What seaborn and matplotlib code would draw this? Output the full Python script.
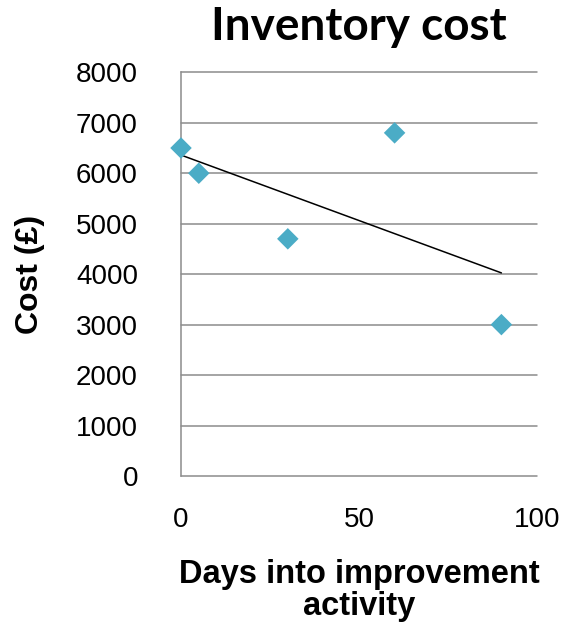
import matplotlib
matplotlib.use("Agg")
import matplotlib.pyplot as plt
import seaborn as sns
import pandas as pd

days = [0, 5, 30, 60, 90]
cost = [6500, 6000, 4700, 6800, 3000]
y_ticks = [0, 1000, 2000, 3000, 4000, 5000, 6000, 7000, 8000]
x_ticks = [0, 50, 100]
title = "Inventory cost"
x_label = "Days into improvement\nactivity"
y_label = "Cost (£)"

df = pd.DataFrame({"days": days, "cost": cost})

sns.set_style("white")
plt.rcParams["font.family"] = ["Liberation Sans", "DejaVu Sans"]
plt.rcParams["text.color"] = "black"
plt.rcParams["axes.labelcolor"] = "black"
plt.rcParams["xtick.color"] = "black"
plt.rcParams["ytick.color"] = "black"

fig = plt.figure(figsize=(5.69, 6.31), dpi=100)
ax = fig.add_axes([181/569, 1-476/631, (537-181)/569, (476-72.3)/631])

sns.regplot(data=df, x="days", y="cost", ax=ax, scatter=False, ci=None,
            truncate=True, color="black", line_kws={"linewidth": 1.1})
sns.scatterplot(data=df, x="days", y="cost", ax=ax, marker="D", s=120,
                color="#4BACC6", edgecolor="none", zorder=5, clip_on=False)

ax.set_xlim(0, 100)
ax.set_ylim(0, 8000)
ax.set_xticks(x_ticks)
ax.set_yticks(y_ticks)
ax.tick_params(axis="both", length=0, labelsize=20, labelcolor="black")
ax.tick_params(axis="y", pad=31)
ax.tick_params(axis="x", pad=22)
ax.yaxis.grid(True, color="#8c8c8c", linewidth=1.1)
ax.xaxis.grid(False)
for gl in ax.get_ygridlines():
    gl.set_clip_on(False)
for s in ["top", "right", "bottom"]:
    ax.spines[s].set_visible(False)
ax.spines["left"].set_color("#8c8c8c")
ax.spines["left"].set_linewidth(1.1)

ax.set_xlabel(x_label, fontsize=23.5, fontweight="bold", labelpad=19,
              linespacing=1.05, color="black")
ax.set_ylabel(y_label, fontsize=23, fontweight="bold", labelpad=22, color="black")
ax.set_title(title, fontsize=33, fontweight="bold", family=["Lato", "DejaVu Sans"],
             pad=23, color="black")

fig.savefig("out.png", dpi=100)
